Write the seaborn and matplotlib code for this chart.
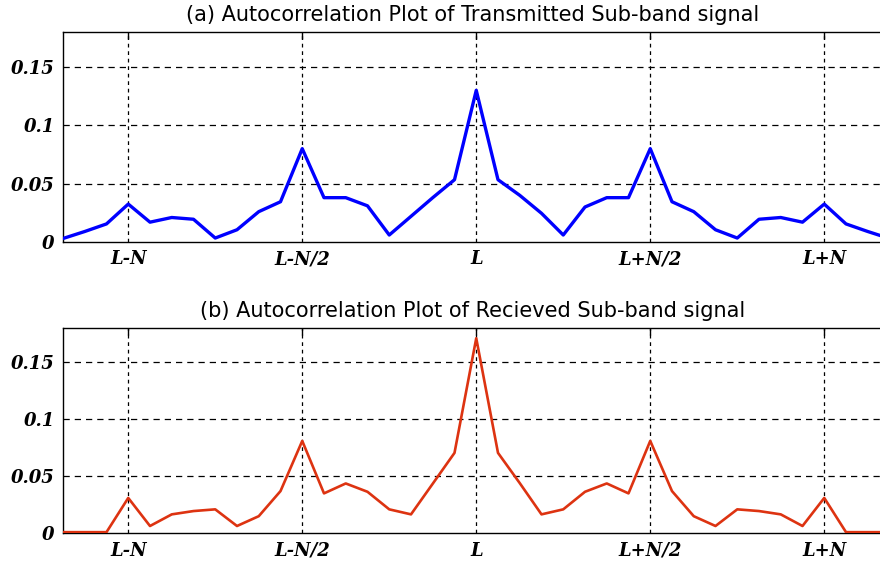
import matplotlib
matplotlib.use("Agg")
import matplotlib.pyplot as plt
import seaborn as sns
import pandas as pd

# ---- data ----
lags = list(range(-19, 20))  # lag offset relative to L
transmitted = [0.003, 0.009, 0.0155, 0.0325, 0.017, 0.021, 0.0195, 0.0034, 0.0105, 0.026,
               0.0345, 0.080, 0.038, 0.038, 0.031, 0.006, 0.022, 0.038, 0.0534, 0.130,
               0.0534, 0.040, 0.0246, 0.006, 0.030, 0.038, 0.038, 0.080, 0.0345, 0.026,
               0.0105, 0.0034, 0.0195, 0.021, 0.017, 0.0325, 0.0155, 0.009, 0.003]
received = [0.001, 0.001, 0.001, 0.031, 0.0064, 0.0166, 0.0195, 0.021, 0.0064, 0.015,
            0.037, 0.081, 0.035, 0.0437, 0.0364, 0.021, 0.0166, 0.0435, 0.0705, 0.171,
            0.0705, 0.044, 0.0166, 0.021, 0.0364, 0.0437, 0.035, 0.081, 0.037, 0.015,
            0.0064, 0.021, 0.0195, 0.0166, 0.0064, 0.031, 0.001, 0.001, 0.001]
xtick_pos = [-16, -8, 0, 8, 16]
xtick_labels = ["L-N", "L-N/2", "L", "L+N/2", "L+N"]
ytick_pos = [0, 0.05, 0.1, 0.15]
ytick_labels = ["0", "0.05", "0.1", "0.15"]
titles = ["(a) Autocorrelation Plot of Transmitted Sub-band signal",
          "(b) Autocorrelation Plot of Recieved Sub-band signal"]

sns.set_style("white")
plt.rcParams["font.family"] = ["DejaVu Sans"]
plt.rcParams["text.color"] = "black"

W, H = 880, 563
fig = plt.figure(figsize=(W / 100, H / 100), dpi=100)

def px_axes(left, right, top, bottom):
    return fig.add_axes([left / W, (H - bottom) / H, (right - left) / W, (bottom - top) / H])

ax1 = px_axes(63, 889.5, 32, 242)
ax2 = px_axes(63, 889.5, 328, 533.3)

df = pd.DataFrame({"lag": lags, "transmitted": transmitted, "received": received})

for ax, col, color, lw, title in [(ax1, "transmitted", "#0000FF", 2.4, titles[0]),
                                   (ax2, "received", "#DD3311", 1.9, titles[1])]:
    sns.lineplot(data=df, x="lag", y=col, ax=ax, color=color, linewidth=lw, zorder=3)
    ax.set_xlim(-19, 19)
    ax.set_ylim(0, 0.18)
    ax.set_xticks(xtick_pos)
    ax.set_xticklabels(xtick_labels, family="DejaVu Serif", fontweight="bold",
                       fontstyle="italic", fontsize=13, color="black")
    ax.set_yticks(ytick_pos)
    ax.set_yticklabels(ytick_labels, family="DejaVu Serif", fontweight="bold",
                       fontstyle="italic", fontsize=13, color="black")
    ax.set_xlabel("")
    ax.set_ylabel("")
    ax.tick_params(direction="in", length=5, width=1, color="black",
                   top=True, right=True, pad=6)
    for s in ax.spines.values():
        s.set_color("black")
        s.set_linewidth(1.0)
    for y in ytick_pos[1:]:
        ax.axhline(y, color="black", linewidth=0.9, linestyle=(0, (5, 4)), zorder=1)
    for x in xtick_pos:
        ax.axvline(x, color="black", linewidth=0.9, linestyle=(0, (3, 3)), zorder=1)
    ax.set_title(title, fontsize=15, pad=8, color="black",
                 x=(472.5 - 63) / (889.5 - 63))

fig.savefig("out.png", dpi=100)
